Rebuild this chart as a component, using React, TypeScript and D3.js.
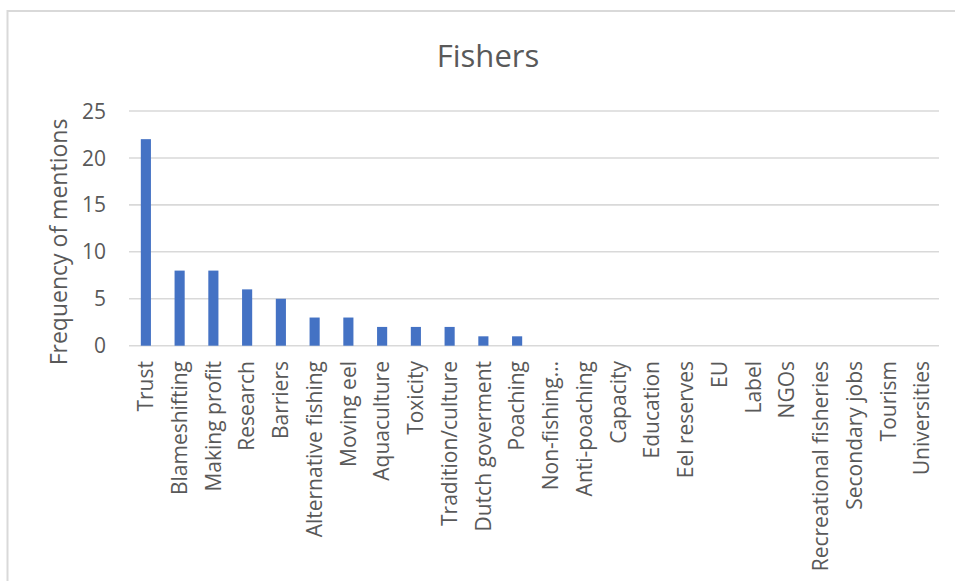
import React from "react";
import * as d3 from "d3";

const categories: string[] = [
  "Trust",
  "Blameshifting",
  "Making profit",
  "Research",
  "Barriers",
  "Alternative fishing",
  "Moving eel",
  "Aquaculture",
  "Toxicity",
  "Tradition/culture",
  "Dutch goverment",
  "Poaching",
  "Non-fishing…",
  "Anti-poaching",
  "Capacity",
  "Education",
  "Eel reserves",
  "EU",
  "Label",
  "NGOs",
  "Recreational fisheries",
  "Secondary jobs",
  "Tourism",
  "Universities",
];

const mentions: number[] = [22, 8, 8, 6, 5, 3, 3, 2, 2, 2, 1, 1, 0, 0, 0, 0, 0, 0, 0, 0, 0, 0, 0, 0];

const yTicks: number[] = [0, 5, 10, 15, 20, 25];

const chartTitle = "Fishers";
const yTitle = "Frequency of mentions";

const W = 955;
const H = 581;
const FONT = "'Open Sans', 'Noto Sans', sans-serif";
const TEXT = "#595959";
const GRID = "#d9d9d9";
const BAR = "#4472c4";

export default function App() {
  const x = d3
    .scaleBand<string>()
    .domain(categories)
    .range([129, 939])
    .paddingInner(0.7)
    .paddingOuter(0.35);

  const y = d3.scaleLinear().domain([0, 25]).range([345.7, 111]);

  return (
    <svg
      width={W}
      height={H}
      style={{ position: "absolute", left: 0, top: 0, background: "#fff" }}
    >
      <rect x={7.5} y={11} width={970} height={600} fill="#fff" stroke={GRID} strokeWidth={2} />

      <text
        x={488}
        y={67}
        textAnchor="middle"
        fontFamily={FONT}
        fontSize={31}
        fill={TEXT}
      >
        {chartTitle}
      </text>

      {yTicks.map((t) => (
        <g key={t}>
          <line x1={129} x2={939} y1={y(t)} y2={y(t)} stroke={GRID} strokeWidth={1.6} />
          <text
            x={106}
            y={y(t)}
            dy="0.36em"
            textAnchor="end"
            fontFamily={FONT}
            fontSize={21}
            fill={TEXT}
          >
            {t}
          </text>
        </g>
      ))}

      <text
        transform={`translate(59, 242) rotate(-90)`}
        textAnchor="middle"
        dy="0.35em"
        fontFamily={FONT}
        fontSize={23}
        fill={TEXT}
      >
        {yTitle}
      </text>

      {categories.map((c, i) => (
        <rect
          key={c}
          x={x(c)!}
          y={y(mentions[i])}
          width={x.bandwidth()}
          height={y(0) - y(mentions[i])}
          fill={BAR}
        />
      ))}

      {categories.map((c) => {
        const cx = x(c)! + x.bandwidth() / 2;
        return (
          <text
            key={c}
            transform={`translate(${cx}, 361) rotate(-90)`}
            textAnchor="end"
            dy="0.35em"
            fontFamily={FONT}
            fontSize={21}
            fill={TEXT}
          >
            {c}
          </text>
        );
      })}
    </svg>
  );
}
